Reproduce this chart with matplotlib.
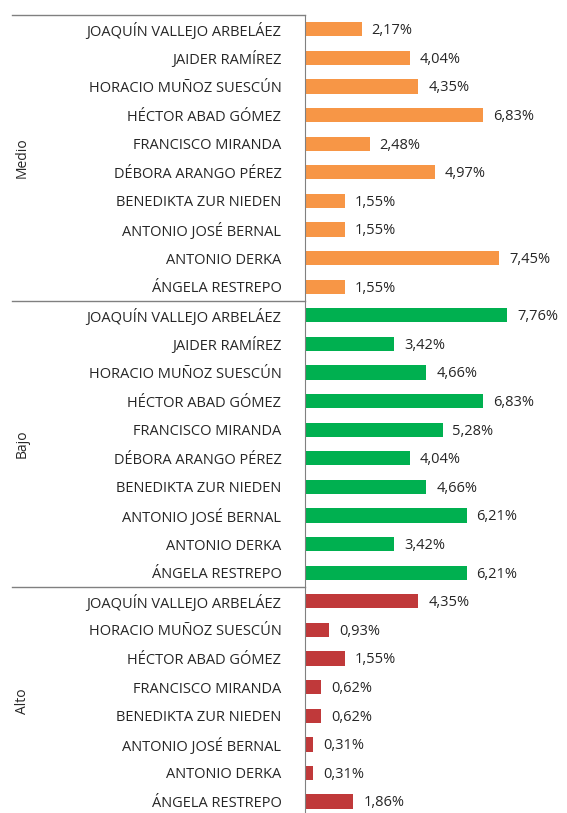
import numpy as np
import matplotlib.pyplot as plt
from matplotlib.transforms import blended_transform_factory

plt.rcParams['font.family'] = ['Open Sans', 'DejaVu Sans']

# data, top to bottom
medio_names = ['JOAQUÍN VALLEJO ARBELÁEZ', 'JAIDER RAMÍREZ', 'HORACIO MUÑOZ SUESCÚN',
               'HÉCTOR ABAD GÓMEZ', 'FRANCISCO MIRANDA', 'DÉBORA ARANGO PÉREZ',
               'BENEDIKTA ZUR NIEDEN', 'ANTONIO JOSÉ BERNAL', 'ANTONIO DERKA',
               'ÁNGELA RESTREPO']
medio_vals = [2.17, 4.04, 4.35, 6.83, 2.48, 4.97, 1.55, 1.55, 7.45, 1.55]

bajo_names = ['JOAQUÍN VALLEJO ARBELÁEZ', 'JAIDER RAMÍREZ', 'HORACIO MUÑOZ SUESCÚN',
              'HÉCTOR ABAD GÓMEZ', 'FRANCISCO MIRANDA', 'DÉBORA ARANGO PÉREZ',
              'BENEDIKTA ZUR NIEDEN', 'ANTONIO JOSÉ BERNAL', 'ANTONIO DERKA',
              'ÁNGELA RESTREPO']
bajo_vals = [7.76, 3.42, 4.66, 6.83, 5.28, 4.04, 4.66, 6.21, 3.42, 6.21]

alto_names = ['JOAQUÍN VALLEJO ARBELÁEZ', 'HORACIO MUÑOZ SUESCÚN', 'HÉCTOR ABAD GÓMEZ',
              'FRANCISCO MIRANDA', 'BENEDIKTA ZUR NIEDEN', 'ANTONIO JOSÉ BERNAL',
              'ANTONIO DERKA', 'ÁNGELA RESTREPO']
alto_vals = [4.35, 0.93, 1.55, 0.62, 0.62, 0.31, 0.31, 1.86]

groups = ['Medio', 'Bajo', 'Alto']
colors = ['#F79646', '#00B050', '#C0393A']

names = medio_names + bajo_names + alto_names
vals = medio_vals + bajo_vals + alto_vals
cols = ([colors[0]] * len(medio_vals) + [colors[1]] * len(bajo_vals)
        + [colors[2]] * len(alto_vals))
y = np.arange(len(vals))

W, H = 567, 813
fig = plt.figure(figsize=(W / 100, H / 100), dpi=100)
ax = fig.add_axes([305 / W, 0, 262 / W, (H - 15) / H])

ax.barh(y, vals, height=0.5, color=cols)
ax.set_ylim(27.4, -0.5)
ax.set_xlim(0, 10.05)
ax.set_yticks(y)
ax.set_yticklabels(names, fontsize=10.5, color='#262626')
ax.tick_params(axis='y', length=0, pad=17)
ax.set_xticks([])
for s in ['top', 'right', 'bottom']:
    ax.spines[s].set_visible(False)
ax.spines['left'].set_color('#808080')

for yi, v in zip(y, vals):
    ax.annotate(('%.2f%%' % v).replace('.', ','), (v, yi), xytext=(7, -1),
                textcoords='offset points', va='center', ha='left',
                fontsize=10.5, color='#262626')

# group separators and labels
tr = blended_transform_factory(fig.transFigure, ax.transData)
sizes = [len(medio_vals), len(bajo_vals), len(alto_vals)]
start = 0
for g, n in zip(groups, sizes):
    ax.plot([12 / W, 305 / W], [start - 0.5, start - 0.5], transform=tr,
            color='#808080', lw=1, clip_on=False)
    ax.text(22 / W, start + (n - 1) / 2, g, transform=tr, rotation=90,
            ha='center', va='center', fontsize=10, color='#262626')
    start += n

fig.savefig('out.png', dpi=100)
